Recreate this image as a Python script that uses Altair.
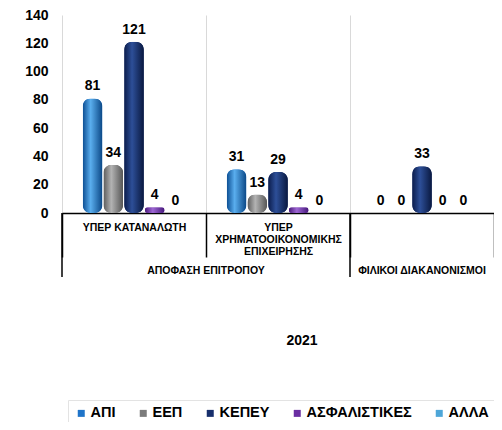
import altair as alt
import pandas as pd

# ---- data ----
categories = ["ΥΠΕΡ ΚΑΤΑΝΑΛΩΤΗ", "ΥΠΕΡ\nΧΡΗΜΑΤΟΟΙΚΟΝΟΜΙΚΗΣ\nΕΠΙΧΕΙΡΗΣΗΣ", " "]
series = ["ΑΠΙ", "ΕΕΠ", "ΚΕΠΕΥ", "ΑΣΦΑΛΙΣΤΙΚΕΣ", "ΑΛΛΑ"]
values_api = [81, 31, 0]
values_eep = [34, 13, 0]
values_kepey = [121, 29, 33]
values_asf = [4, 4, 0]
values_alla = [0, 0, 0]
super_labels = ["ΑΠΟΦΑΣΗ ΕΠΙΤΡΟΠΟΥ", "ΦΙΛΙΚΟΙ ΔΙΑΚΑΝΟΝΙΣΜΟΙ"]
title_text = ["2021"]
y_ticks = [0, 20, 40, 60, 80, 100, 120, 140]

colors = ["#1f74c9", "#7b7b7b", "#172f6c", "#6a2ea2", "#4ea6d8"]
grads = [
    ("#0b4d92", "#5aaeee", "#0a4786"),
    ("#5c5c5c", "#b3b3b3", "#555555"),
    ("#0b1c4b", "#2d4f98", "#09183f"),
    ("#4a1a7a", "#9d66d3", "#45177a"),
    ("#2c7fb2", "#8fcdf0", "#2a77a8"),
]

all_values = [values_api, values_eep, values_kepey, values_asf, values_alla]
rows = []
for s, vals in zip(series, all_values):
    for c, v in zip(categories, vals):
        rows.append({"group": c, "series": s, "value": v})
df = pd.DataFrame(rows)

FONT = "Arial, Liberation Sans, sans-serif"
TICK = 44

x_enc = alt.X(
    "group:N",
    sort=categories,
    scale=alt.Scale(domain=categories, paddingInner=0, paddingOuter=0),
    axis=alt.Axis(
        title=None,
        labelExpr="split(datum.label, '\\n')",
        labelAngle=0,
        labelBaseline="top",
        labelPadding=9 - TICK,
        labelFontSize=10.5,
        labelFontWeight="bold",
        labelLineHeight=12,
        labelLimit=0,
        labelColor="#000000",
        tickBand="extent",
        tickSize=TICK,
        tickColor="#000000",
        tickWidth=1.5,
        domainColor="#000000",
        domainWidth=1.5,
        grid=True,
        gridColor="#d9d9d9",
        gridWidth=1,
    ),
)
xoff = alt.XOffset(
    "series:N",
    sort=series,
    scale=alt.Scale(domain=series, paddingInner=0.05, paddingOuter=1.0),
)
y_enc = alt.Y(
    "value:Q",
    scale=alt.Scale(domain=[0, 140], nice=False),
    axis=alt.Axis(
        title=None,
        values=y_ticks,
        domain=False,
        ticks=False,
        grid=False,
        labelFontSize=14,
        labelFontWeight="bold",
        labelColor="#000000",
        labelPadding=14,
        labelOverlap=False,
        labelFlush=False,
    ),
)

base = alt.Chart(df)

bars = base.mark_bar(cornerRadius=8).encode(
    x=x_enc,
    xOffset=xoff,
    y=y_enc,
    color=alt.Color(
        "series:N",
        sort=series,
        scale=alt.Scale(domain=series, range=colors),
        legend=alt.Legend(
            title=None,
            orient="none",
            legendX=6,
            legendY=385,
            direction="horizontal",
            symbolType="square",
            symbolSize=49,
            symbolStrokeWidth=0,
            labelFontSize=14.5,
            labelFontWeight="bold",
            labelColor="#000000",
            labelOffset=2,
            columnPadding=20,
            padding=6,
            fillColor="#ffffff",
            strokeColor="#e3e3e3",
        ),
    ),
)

grad_layers = []
for s, (c0, c1, c2) in zip(series, grads):
    g = alt.Gradient(
        gradient="linear",
        x1=0, x2=1, y1=0, y2=0,
        stops=[
            alt.GradientStop(offset=0, color=c0),
            alt.GradientStop(offset=0.4, color=c1),
            alt.GradientStop(offset=1, color=c2),
        ],
    )
    grad_layers.append(
        base.transform_filter(alt.datum.series == s)
        .mark_bar(cornerRadius=8)
        .encode(x=x_enc, xOffset=xoff, y=y_enc, color=alt.value(g))
    )

labels = base.mark_text(
    baseline="middle", dy=-12, fontSize=14, fontWeight="bold", font=FONT, color="#000000"
).encode(
    x=x_enc,
    xOffset=xoff,
    y=y_enc,
    text="value:Q",
)

# longer boundary lines of the outer category level
outer_df = pd.DataFrame({"group": [categories[0], categories[2]]})
outer_rules = alt.Chart(outer_df).mark_rule(color="#000000", strokeWidth=1.5).encode(
    x=alt.X("group:N", sort=categories, bandPosition=0),
    y=alt.value(198),
    y2=alt.value(262),
)

sup1 = alt.Chart(pd.DataFrame({"group": [categories[1]], "t": [super_labels[0]]})).mark_text(
    fontSize=10.5, fontWeight="bold", font=FONT, color="#000000", baseline="middle"
).encode(x=alt.X("group:N", sort=categories, bandPosition=0), y=alt.value(256), text="t:N")

sup2 = alt.Chart(pd.DataFrame({"group": [categories[2]], "t": [super_labels[1]]})).mark_text(
    fontSize=10.5, fontWeight="bold", font=FONT, color="#000000", baseline="middle"
).encode(x=alt.X("group:N", sort=categories, bandPosition=0.5), y=alt.value(256), text="t:N")

title = alt.Chart(pd.DataFrame({"t": title_text})).mark_text(
    fontSize=14, fontWeight="bold", font=FONT, color="#000000", baseline="middle"
).encode(x=alt.value(240), y=alt.value(326), text="t:N")

chart = alt.layer(bars, *grad_layers, labels, outer_rules, sup1, sup2, title).properties(
    width=432,
    height=198,
    autosize=alt.AutoSizeParams(type="none"),
    padding={"left": 54, "top": 7, "right": 0, "bottom": 209},
).configure(font=FONT).configure_view(stroke=None)

chart.save("out.html", embed_options={"renderer": "svg", "actions": False})
